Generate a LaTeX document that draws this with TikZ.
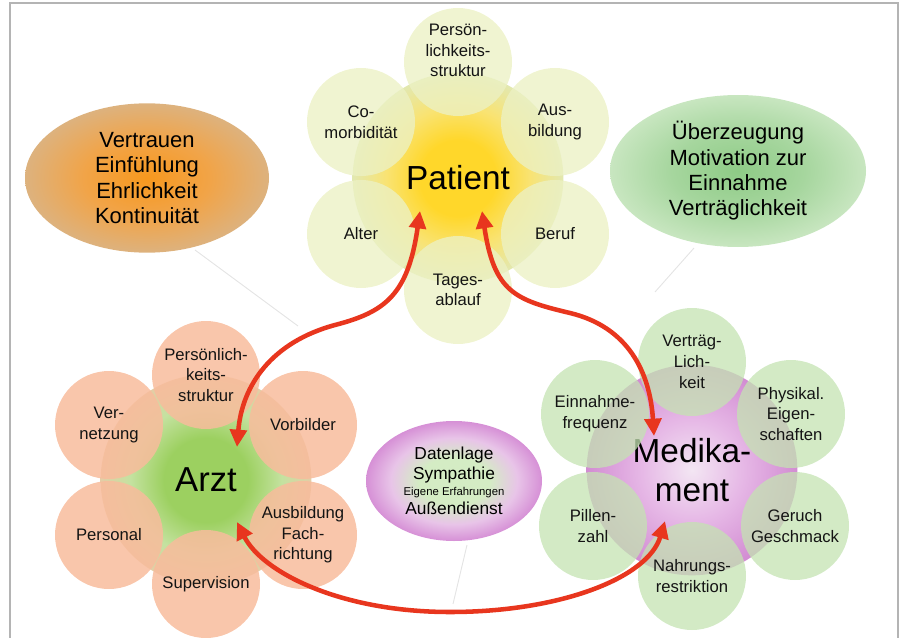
\documentclass[tikz,border=0pt]{standalone}
\usepackage{fontspec}
\setmainfont{Liberation Sans}
\usetikzlibrary{arrows.meta,shapes.geometric}
\definecolor{frameC}{HTML}{B4B4B4}
\definecolor{patY}{HTML}{FFD72A}
\definecolor{patY2}{HTML}{F9E372}
\definecolor{patEdge}{HTML}{E2E8B0}
\definecolor{patPetal}{HTML}{ECF1C4}
\definecolor{arzG}{HTML}{9CD060}
\definecolor{arzG2}{HTML}{C4E2A0}
\definecolor{arzEdge}{HTML}{E4CDA6}
\definecolor{arzPetal}{HTML}{F8BC9C}
\definecolor{medC}{HTML}{F3E6F3}
\definecolor{medM}{HTML}{E6B8E6}
\definecolor{medEdge}{HTML}{D28CD2}
\definecolor{medPetal}{HTML}{C4E3B2}
\definecolor{orC}{HTML}{F7981E}
\definecolor{orM}{HTML}{F1A448}
\definecolor{orE}{HTML}{DDB27E}
\definecolor{grC}{HTML}{8ECB86}
\definecolor{grM}{HTML}{A6D69E}
\definecolor{grE}{HTML}{C8E6C0}
\definecolor{puC}{HTML}{D4ECC4}
\definecolor{puM}{HTML}{E8C4E8}
\definecolor{puE}{HTML}{D690D6}
\definecolor{arrowRed}{HTML}{E8361E}
\definecolor{faint}{HTML}{E4E4E4}
\pgfdeclareradialshading{patsh}{\pgfpoint{0bp}{0bp}}{color(0bp)=(patY); color(9bp)=(patY); color(17bp)=(patY2); color(25bp)=(patEdge); color(50bp)=(patEdge)}
\pgfdeclareradialshading{arzsh}{\pgfpoint{0bp}{0bp}}{color(0bp)=(arzG); color(10bp)=(arzG); color(18bp)=(arzG2); color(25bp)=(arzEdge); color(50bp)=(arzEdge)}
\pgfdeclareradialshading{medsh}{\pgfpoint{0bp}{0bp}}{color(0bp)=(medC); color(12bp)=(medM); color(25bp)=(medEdge); color(50bp)=(medEdge)}
\pgfdeclareradialshading{orsh}{\pgfpoint{0bp}{0bp}}{color(0bp)=(orC); color(13bp)=(orM); color(25bp)=(orE); color(50bp)=(orE)}
\pgfdeclareradialshading{grsh}{\pgfpoint{0bp}{0bp}}{color(0bp)=(grC); color(13bp)=(grM); color(25bp)=(grE); color(50bp)=(grE)}
\pgfdeclareradialshading{push}{\pgfpoint{0bp}{0bp}}{color(0bp)=(puC); color(10bp)=(puC); color(18bp)=(puM); color(25bp)=(puE); color(50bp)=(puE)}
\newcommand{\petalfont}{\fontsize{12.5}{15.5}\selectfont}
\begin{document}
\begin{tikzpicture}[x=0.75pt,y=-0.75pt,
  centre/.style={circle, minimum size=158pt, inner sep=0pt, align=center, shade},
  petal/.style={circle, minimum size=81pt, inner sep=0pt, align=center, font=\petalfont, text=black!92, fill opacity=0.78, text opacity=1},
  ppetal/.style={petal, fill=patPetal},
  apetal/.style={petal, fill=arzPetal, fill opacity=0.85},
  mpetal/.style={petal, fill=medPetal, fill opacity=0.75},
  bubble/.style={ellipse, inner sep=0pt, align=center, shade, text=black},
  bigarrow/.style={draw=arrowRed, line width=3.4pt, {Triangle[length=13pt,width=12.5pt]}-{Triangle[length=13pt,width=12.5pt]}},
  faintline/.style={draw=faint, line width=0.7pt}]
\useasboundingbox (0,0) rectangle (899,638);
\draw[frameC, line width=1.5pt] (9.5,645) -- (9.5,3.5) -- (897.5,3.5) -- (897.5,645);

% faint connector lines
\coordinate (fo1) at (195,250); \coordinate (fo2) at (298,326);
\coordinate (fg1) at (694,248); \coordinate (fg2) at (655,292);
\coordinate (fp1) at (467,545); \coordinate (fp2) at (453,604);
\draw[faintline] (fo1) -- (fo2);
\draw[faintline] (fg1) -- (fg2);
\draw[faintline] (fp1) -- (fp2);

% side bubbles
\node[bubble, shading=orsh, minimum width=183pt, minimum height=112pt, font=\fontsize{16.5}{19}\selectfont] (vertrauen) at (147,178) {Vertrauen\\Einfühlung\\Ehrlichkeit\\Kontinuität};
\node[bubble, shading=grsh, minimum width=192pt, minimum height=114pt, font=\fontsize{16.5}{19}\selectfont] (ueberz) at (738,171) {Überzeugung\\Motivation zur\\Einnahme\\Verträglichkeit};
\node[bubble, shading=push, minimum width=132pt, minimum height=90pt, font=\fontsize{13}{15}\selectfont] (daten) at (454,481) {Datenlage\\Sympathie\\[-3pt]{\fontsize{8.5}{10}\selectfont Eigene Erfahrungen}\\[-1pt]Außendienst};

% Patient flower
\node[centre, shading=patsh, font=\fontsize{25}{29}\selectfont] (patient) at (458,178) {Patient};
\node[ppetal] (p1) at (458,62) {Persön-\\lichkeits-\\struktur\\[2pt]};
\node[ppetal] (p2) at (555,122) {Aus-\\bildung};
\node[ppetal] (p3) at (555,234) {Beruf};
\node[ppetal] (p4) at (458,290) {Tages-\\ablauf};
\node[ppetal] (p5) at (361,234) {Alter};
\node[ppetal] (p6) at (361,122) {Co-\\morbidität};

% Arzt flower
\node[centre, shading=arzsh, font=\fontsize{26}{30}\selectfont] (arzt) at (206,480) {Arzt};
\node[apetal] (a1) at (206,375) {Persönlich-\\keits-\\struktur};
\node[apetal] (a2) at (303,425) {Vorbilder};
\node[apetal] (a3) at (303,535) {Ausbildung\\Fach-\\richtung};
\node[apetal] (a4) at (206,584) {Supervision};
\node[apetal] (a5) at (109,535) {Personal};
\node[apetal] (a6) at (109,425) {Ver-\\netzung};

% Medikament flower
\node[centre, shading=medsh, font=\fontsize{25}{29}\selectfont] (medi) at (692,470) {Medika-\\ment};
\node[mpetal] (m1) at (692,362) {Verträg-\\Lich-\\keit};
\node[mpetal] (m2) at (791,414) {Physikal.\\Eigen-\\schaften};
\node[mpetal] (m3) at (795,526) {Geruch\\Geschmack};
\node[mpetal] (m4) at (692,576) {Nahrungs-\\restriktion};
\node[mpetal] (m5) at (593,526) {Pillen-\\zahl};
\node[mpetal] (m6) at (595,414) {Einnahme-\\frequenz};

% red arrows
\coordinate (pa1) at (420,211);
\coordinate (ar1) at (237,447);
\coordinate (pa2) at (482,211);
\coordinate (me1) at (654,436);
\coordinate (ar2) at (237,522);
\coordinate (me2) at (665,521);
\coordinate (w1) at (335,325);
\coordinate (w2) at (570,313);
\coordinate (w3) at (450,612);
\draw[bigarrow] (pa1) .. controls (408,295) and (385,312) .. (w1) .. controls (272,342) and (242,385) .. (ar1);
\draw[bigarrow] (pa2) .. controls (494,292) and (515,300) .. (w2) .. controls (628,327) and (650,372) .. (me1);
\draw[bigarrow] (ar2) .. controls (262,572) and (340,612) .. (w3) .. controls (560,612) and (648,578) .. (me2);
\end{tikzpicture}
\end{document}
